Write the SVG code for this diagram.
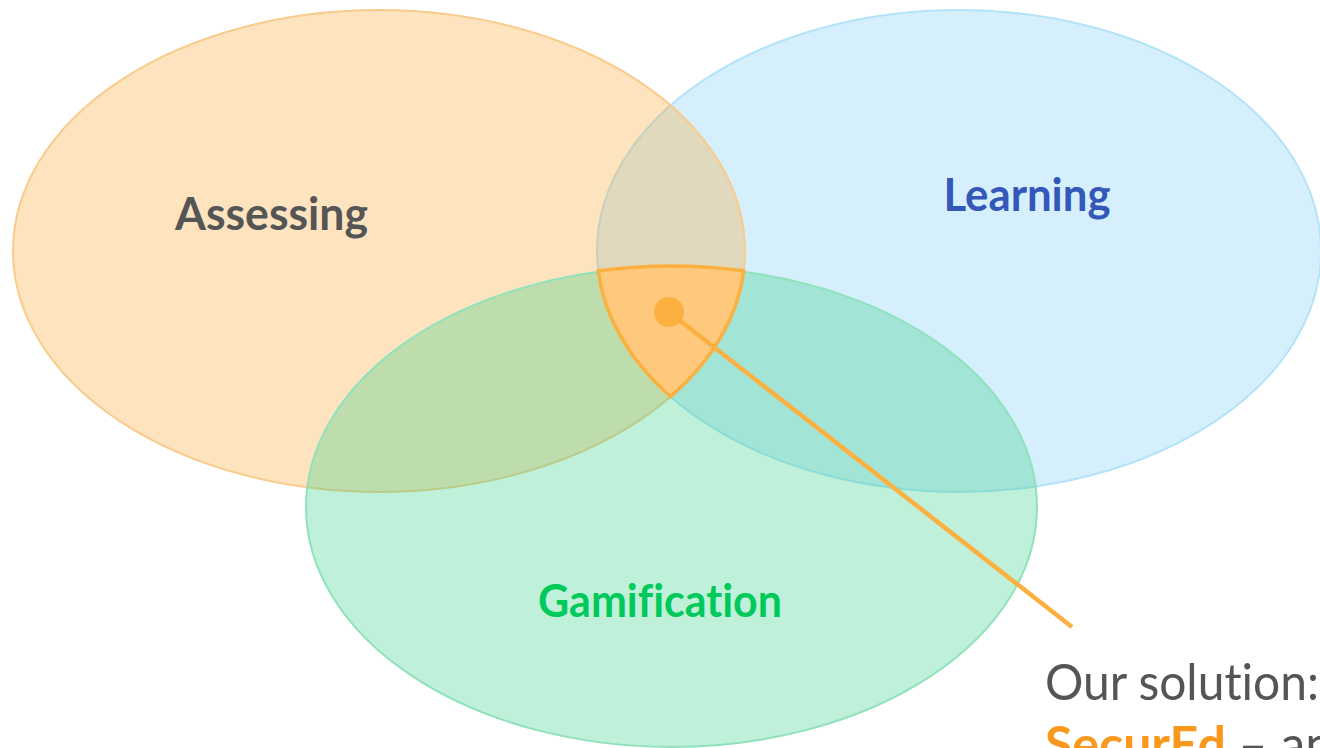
<svg xmlns="http://www.w3.org/2000/svg" width="1320" height="748" viewBox="0 0 1320 748">
<style>
.lbl{font-family:Lato,"Open Sans","Liberation Sans",sans-serif;font-weight:bold;font-size:46px;font-variant-ligatures:none}
.note{font-family:Lato,"Open Sans","Liberation Sans",sans-serif;font-size:50px;fill:#555555;font-variant-ligatures:none}
.set{stroke-width:2}
</style>
<rect width="1320" height="748" fill="#ffffff"/>
<g id="learning">
<ellipse class="set" cx="959" cy="251" rx="362" ry="241" fill="#76CAF8" fill-opacity="0.3" stroke="#B3E3F9"/>
<text class="lbl" x="1027" y="211" text-anchor="middle" fill="#3358B8" textLength="167" lengthAdjust="spacingAndGlyphs">Learning</text>
</g>
<g id="assessing">
<ellipse class="set" cx="379" cy="251" rx="366" ry="241" fill="#FAA42C" fill-opacity="0.3" stroke="#F9CB8C"/>
<text class="lbl" x="271.5" y="230" text-anchor="middle" fill="#555555" textLength="193" lengthAdjust="spacingAndGlyphs">Assessing</text>
</g>
<g id="gamification">
<ellipse class="set" cx="671.5" cy="507" rx="365.5" ry="240" fill="#2ACD80" fill-opacity="0.3" stroke="#8FE2BB"/>
<text class="lbl" x="660" y="617" text-anchor="middle" fill="#00C95B" textLength="244" lengthAdjust="spacingAndGlyphs">Gamification</text>
</g>
<g id="solution">
<path d="M598.2 270.8 A365.5 240 0 0 1 743.8 270.8 A366 241 0 0 1 670.6 396.7 A362 241 0 0 1 598.2 270.8 Z" fill="#FEC97C" stroke="#FBB040" stroke-width="3.5" stroke-linejoin="round"/>
</g>
<g id="connectors">
<line x1="669" y1="312" x2="1072" y2="627" stroke="#FBB040" stroke-width="4.5"/>
<circle cx="669" cy="312" r="15" fill="#FBB040"/>
</g>
<g id="caption">
<text class="note" x="1045" y="700" textLength="274" lengthAdjust="spacingAndGlyphs">Our solution:</text>
<text class="note" x="1045" y="762"><tspan fill="#F8981D" font-weight="bold">SecurEd</tspan> – an</text>
</g>
</svg>
